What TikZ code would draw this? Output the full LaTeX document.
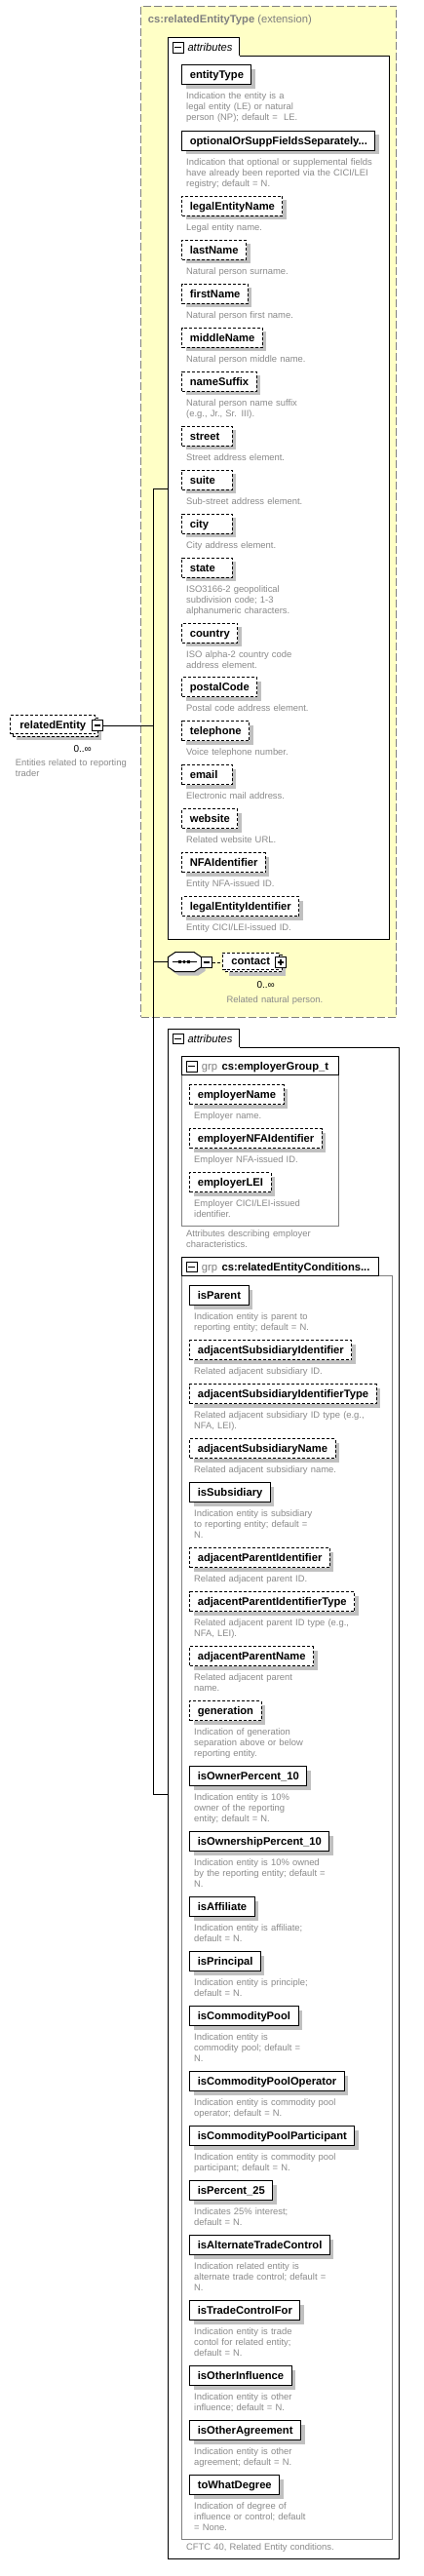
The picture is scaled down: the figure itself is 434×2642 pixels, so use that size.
\documentclass[tikz,border=0pt]{standalone}
\usepackage{fontspec}
\setmainfont{Liberation Sans}
\usetikzlibrary{shadows}
\definecolor{xsyellow}{HTML}{FFFFC6}
\definecolor{xsframe}{HTML}{808080}
\definecolor{xsshadow}{HTML}{C0C0C0}
\definecolor{xsdesc}{HTML}{8A8A8A}

\tikzset{
  xsshade/.style={drop shadow={shadow xshift=4pt, shadow yshift=-4pt, fill=xsshadow, opacity=1}},
  plainbox/.style={rectangle, draw=black, line width=1pt, fill=white, minimum height=20pt,
    inner xsep=8pt, inner ysep=0pt, text height=9pt, text depth=1pt,
    font=\bfseries\fontsize{11.2}{13}\selectfont},
  attrbox/.style={plainbox, xsshade},
  optplain/.style={plainbox, dash pattern=on 3pt off 2pt},
  optbox/.style={optplain, xsshade},
  xdesc/.style={text width=260pt, align=left, inner sep=0pt, anchor=base west,
    text=xsdesc, font=\fontsize{9.4}{11}\selectfont},
  panel/.style={rectangle, draw=black, fill=white, line width=1pt, anchor=north west, inner sep=0pt},
  tabfill/.style={rectangle, fill=white, anchor=north west, inner sep=0pt},
  grpbox/.style={rectangle, draw=xsframe, line width=1pt, anchor=north west, inner sep=0pt},
  grphead/.style={rectangle, draw=black, fill=white, line width=1pt, anchor=north west, inner sep=0pt},
  tgminus/.style={rectangle, draw=black, fill=white, line width=1.2pt, minimum size=10.6pt, inner sep=0pt,
    path picture={\draw[line width=1.2pt] ([xshift=2pt]path picture bounding box.west) -- ([xshift=-2pt]path picture bounding box.east);}},
  tgplus/.style={tgminus,
    path picture={\draw[line width=1.2pt] ([xshift=2pt]path picture bounding box.west) -- ([xshift=-2pt]path picture bounding box.east)
      ([yshift=-2pt]path picture bounding box.north) -- ([yshift=2pt]path picture bounding box.south);}},
  hdtext/.style={anchor=base west, inner sep=0pt, font=\fontsize{11.2}{13}\selectfont},
  occurs/.style={anchor=base east, inner sep=0pt, font=\fontsize{10}{12}\selectfont}
}

% element box with its description below
\newcommand{\elabel}[1]{\setbox0=\hbox{#1}\ifdim\wd0<35.4pt\makebox[35.4pt][l]{#1}\else#1\fi}
\newcommand{\xelem}[6]{%
  \node[#1, anchor=north west] (#2) at (#3,#4) {\elabel{#5}};
  \node[xdesc] (#2Desc) at ({#3+4.7},{#4+35.5}) {#6};}

\begin{document}
\begin{tikzpicture}[x=1pt, y=-1pt]
\useasboundingbox (0,0) rectangle (434,2642);

% Extension frame
\node[rectangle, draw=xsframe, fill=xsyellow, dash pattern=on 8pt off 3pt, line width=1pt,
  minimum width=262pt, minimum height=1037pt, anchor=north west, inner sep=0pt] (ext) at (144.3,5.7) {};
\node[hdtext, text=xsframe] (extTitle) at (151.7,23.5) {\textbf{cs:relatedEntityType} (extension)};

% Attributes of the type
\node[panel, minimum width=227pt, minimum height=906pt] (attrs1) at (172.3,57.3) {};
\node[tabfill, minimum width=73pt, minimum height=19.6pt] (attrs1Tab) at (172.3,38.7) {};
\draw[line width=1pt] (attrs1Tab.west |- attrs1.north) |- (attrs1Tab.north east) -- (attrs1Tab.east |- attrs1.north);
\node[tgminus, line width=1pt] (attrs1Tog) at (182.7,48.8) {};
\node[hdtext, font=\itshape\fontsize{11.2}{13}\selectfont] (attrs1Lbl) at (192.3,52.5) {attributes};

\xelem{attrbox}{entityType}{186.3}{66.3}{entityType}{Indication the entity is a\\legal entity (LE) or natural\\person (NP); default =~ LE.}
\xelem{attrbox}{optFields}{186.3}{133.7}{optionalOrSuppFieldsSeparately...}{Indication that optional or supplemental fields\\have already been reported via the CICI/LEI\\registry; default = N.}
\xelem{optbox}{legalEntityName}{186.3}{200.7}{legalEntityName}{Legal entity name.}
\xelem{optbox}{lastName}{186.3}{245.7}{lastName}{Natural person surname.}
\xelem{optbox}{firstName}{186.3}{290.7}{firstName}{Natural person first name.}
\xelem{optbox}{middleName}{186.3}{335.7}{middleName}{Natural person middle name.}
\xelem{optbox}{nameSuffix}{186.3}{380.7}{nameSuffix}{Natural person name suffix\\(e.g., Jr., Sr. III).}
\xelem{optbox}{street}{186.3}{436.7}{street}{Street address element.}
\xelem{optbox}{suite}{186.3}{481.7}{suite}{Sub-street address element.}
\xelem{optbox}{city}{186.3}{526.7}{city}{City address element.}
\xelem{optbox}{state}{186.3}{571.7}{state}{ISO3166-2 geopolitical\\subdivision code; 1-3\\alphanumeric characters.}
\xelem{optbox}{country}{186.3}{638.7}{country}{ISO alpha-2 country code\\address element.}
\xelem{optbox}{postalCode}{186.3}{694.3}{postalCode}{Postal code address element.}
\xelem{optbox}{telephone}{186.3}{739.3}{telephone}{Voice telephone number.}
\xelem{optbox}{email}{186.3}{784.3}{email}{Electronic mail address.}
\xelem{optbox}{website}{186.3}{829.3}{website}{Related website URL.}
\xelem{optbox}{nfaId}{186.3}{874.3}{NFAIdentifier}{Entity NFA-issued ID.}
\xelem{optbox}{leiId}{186.3}{919.3}{legalEntityIdentifier}{Entity CICI/LEI-issued ID.}

% Sequence with contact
\coordinate (seqW) at (172.3,986.7);
\coordinate (seqE) at (206.7,986.7);
\draw[line width=1pt, fill=white, xsshade]
  (seqW) -- ++(0,-5) -- ++(7.4,-5) -- ++(19.6,0) -- ++(7.4,5) -- ++(0,10) -- ++(-7.4,5) -- ++(-19.6,0) -- ++(-7.4,-5) -- cycle;
\draw[line width=1pt] ([xshift=4.4pt]seqW) -- ([xshift=-5pt]seqE);
\fill (183,985.4) rectangle ++(2.6,2.6);
\fill (187.7,985.4) rectangle ++(2.6,2.6);
\fill (192.4,985.4) rectangle ++(2.6,2.6);
\node[tgminus] (seqTog) at (212,987) {};

\node[optbox, minimum width=58pt, minimum height=17pt, text height=8pt] (contactBack) at (260.2,988.2) {};
\node[optplain, minimum width=58pt, minimum height=17pt, text height=8pt, anchor=north west] (contact) at (227.7,976.7) {contact};
\node[tgplus] (contactTog) at (288,987) {};
\node[occurs] (contactOcc) at (282,1013.5) {0..∞};
\node[xdesc] (contactDesc) at (232.3,1028.7) {Related natural person.};
\draw[line width=1pt, dash pattern=on 3pt off 2pt] (seqTog.east) -- (seqTog.east -| contact.west);

% Attributes of the element
\node[panel, minimum width=237pt, minimum height=1549.7pt] (attrs2) at (172.3,1074.3) {};
\node[tabfill, minimum width=73pt, minimum height=19.6pt] (attrs2Tab) at (172.3,1055.7) {};
\draw[line width=1pt] (attrs2Tab.west |- attrs2.north) |- (attrs2Tab.north east) -- (attrs2Tab.east |- attrs2.north);
\node[tgminus, line width=1pt] (attrs2Tog) at (182.7,1065.3) {};
\node[hdtext, font=\itshape\fontsize{11.2}{13}\selectfont] (attrs2Lbl) at (192.3,1069.5) {attributes};

% Employer group
\node[grpbox, minimum width=160.4pt, minimum height=155.3pt] (empGrp) at (186.3,1102) {};
\node[grphead, minimum width=160.4pt, minimum height=18.7pt] (empHead) at (186.3,1083.3) {};
\node[tgminus, line width=1pt] (empTog) at (196.7,1093.7) {};
\node[hdtext] (empLbl) at (206.7,1097.5) {\textcolor{xsframe}{grp}\hspace{4.5pt}\textbf{cs:employerGroup\_t}};
\xelem{optbox}{employerName}{194.3}{1112.3}{employerName}{Employer name.}
\xelem{optbox}{employerNfa}{194.3}{1157.3}{employerNFAIdentifier}{Employer NFA-issued ID.}
\xelem{optbox}{employerLei}{194.3}{1202.3}{employerLEI}{Employer CICI/LEI-issued\\identifier.}
\node[xdesc] (empDesc) at (191,1268.7) {Attributes describing employer\\characteristics.};

% Related entity conditions group
\node[grpbox, minimum width=215.4pt, minimum height=1296pt] (relGrp) at (186.3,1308.3) {};
\node[grphead, minimum width=201.4pt, minimum height=19pt] (relHead) at (186.3,1289.3) {};
\node[tgminus, line width=1pt] (relTog) at (196.7,1299.3) {};
\node[hdtext] (relLbl) at (206.7,1303.3) {\textcolor{xsframe}{grp}\hspace{4.5pt}\textbf{cs:relatedEntityConditions...}};
\xelem{attrbox}{isParent}{194.3}{1318.3}{isParent}{Indication entity is parent to\\reporting entity; default = N.}
\xelem{optbox}{adjSubId}{194.3}{1374.3}{adjacentSubsidiaryIdentifier}{Related adjacent subsidiary ID.}
\xelem{optbox}{adjSubIdType}{194.3}{1419.3}{adjacentSubsidiaryIdentifierType}{Related adjacent subsidiary ID type (e.g.,\\NFA, LEI).}
\xelem{optbox}{adjSubName}{194.3}{1475}{adjacentSubsidiaryName}{Related adjacent subsidiary name.}
\xelem{attrbox}{isSubsidiary}{194.3}{1520.3}{isSubsidiary}{Indication entity is subsidiary\\to reporting entity; default =\\N.}
\xelem{optbox}{adjParId}{194.3}{1587.3}{adjacentParentIdentifier}{Related adjacent parent ID.}
\xelem{optbox}{adjParIdType}{194.3}{1632.3}{adjacentParentIdentifierType}{Related adjacent parent ID type (e.g.,\\NFA, LEI).}
\xelem{optbox}{adjParName}{194.3}{1688.3}{adjacentParentName}{Related adjacent parent\\name.}
\xelem{optbox}{generation}{194.3}{1744}{generation}{Indication of generation\\separation above or below\\reporting entity.}
\xelem{attrbox}{isOwnerPct}{194.3}{1811.3}{isOwnerPercent\_10}{Indication entity is 10\%\\owner of the reporting\\entity; default = N.}
\xelem{attrbox}{isOwnershipPct}{194.3}{1878.3}{isOwnershipPercent\_10}{Indication entity is 10\% owned\\by the reporting entity; default =\\N.}
\xelem{attrbox}{isAffiliate}{194.3}{1945.3}{isAffiliate}{Indication entity is affiliate;\\default = N.}
\xelem{attrbox}{isPrincipal}{194.3}{2001.3}{isPrincipal}{Indication entity is principle;\\default = N.}
\xelem{attrbox}{isCommPool}{194.3}{2057.3}{isCommodityPool}{Indication entity is\\commodity pool; default =\\N.}
\xelem{attrbox}{isCommPoolOp}{194.3}{2124.3}{isCommodityPoolOperator}{Indication entity is commodity pool\\operator; default = N.}
\xelem{attrbox}{isCommPoolPart}{194.3}{2180.3}{isCommodityPoolParticipant}{Indication entity is commodity pool\\participant; default = N.}
\xelem{attrbox}{isPct25}{194.3}{2236.3}{isPercent\_25}{Indicates 25\% interest;\\default = N.}
\xelem{attrbox}{isAltTrade}{194.3}{2292.3}{isAlternateTradeControl}{Indication related entity is\\alternate trade control; default =\\N.}
\xelem{attrbox}{isTradeFor}{194.3}{2359.3}{isTradeControlFor}{Indication entity is trade\\contol for related entity;\\default = N.}
\xelem{attrbox}{isOtherInf}{194.3}{2426.3}{isOtherInfluence}{Indication entity is other\\influence; default = N.}
\xelem{attrbox}{isOtherAgr}{194.3}{2482.3}{isOtherAgreement}{Indication entity is other\\agreement; default = N.}
\xelem{attrbox}{toWhatDegree}{194.3}{2538.3}{toWhatDegree}{Indication of degree of\\influence or control; default\\= None.}
\node[xdesc] (relDesc) at (191,2615.7) {CFTC 40, Related Entity conditions.};

% relatedEntity element
\node[optbox, minimum width=87pt, minimum height=19pt] (relEntBack) at (56.8,745.8) {};
\node[optplain, minimum width=87pt, minimum height=19pt, anchor=north west] (relEnt) at (10.3,733.3) {relatedEntity};
\node[tgminus] (relEntTog) at (99.8,744) {};
\node[occurs] (relEntOcc) at (94,771) {0..∞};
\node[xdesc] (relEntDesc) at (15.7,785.7) {Entities related to reporting\\trader};

% Connectors
\coordinate (busTop) at (157.3,501.7);
\coordinate (busBot) at (157.3,1840);
\draw[line width=1pt] (busTop) -- (busBot);
\draw[line width=1pt] (busTop) -- (busTop -| attrs1.west);
\draw[line width=1pt] (busBot) -- (busBot -| attrs2.west);
\draw[line width=1pt] (seqW -| busTop) -- (seqW);
\draw[line width=1pt] (relEntTog.east) -- (relEntTog.east -| busTop);
\end{tikzpicture}
\end{document}
